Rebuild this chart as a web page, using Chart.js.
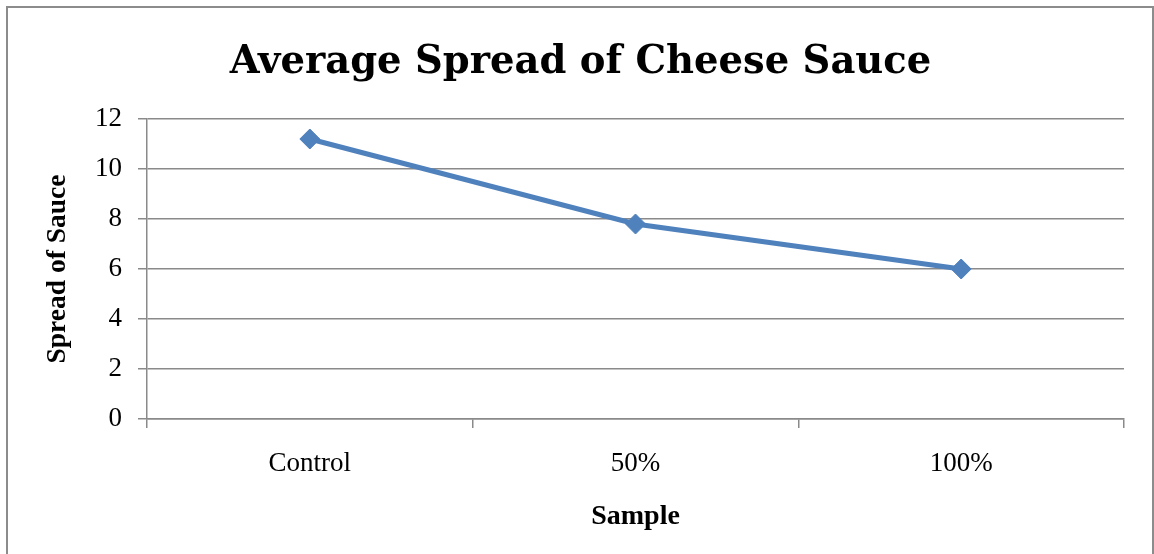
<!DOCTYPE html>
<html>
<head>
<meta charset="utf-8">
<title>Average Spread of Cheese Sauce</title>
<script src="https://cdn.jsdelivr.net/npm/chart.js@4"></script>
<style>
    html, body { margin: 0; padding: 0; background: #fff; }
    #wrap { width: 1154px; height: 554px; position: relative; }
</style>
</head>
<body>
<div id="wrap"><canvas id="spreadChart" width="1154" height="554"></canvas></div>
<script>
// --- Data ---
const samples = ['Control', '50%', '100%'];
const spreadValues = [11.2, 7.8, 6.0];
const yTicks = [0, 2, 4, 6, 8, 10, 12];

const TITLE_FONT = "'DejaVu Serif', serif";
const SERIF = "'Liberation Serif', 'DejaVu Serif', serif";
const GRID = '#8a8a8a';
const BLUE = '#4F81BD';

// thin grey frame round the whole chart (open at the bottom edge)
const frame = {
    id: 'frame',
    beforeDraw(chart) {
        const ctx = chart.ctx;
        ctx.save();
        ctx.strokeStyle = '#8c8c8c';
        ctx.lineWidth = 2;
        ctx.strokeRect(7, 7, 1146, 560);
        ctx.restore();
    }
};

document.addEventListener('DOMContentLoaded', () => {
    const ctx = document.getElementById('spreadChart');

    new Chart(ctx, {
        type: 'line',
        data: {
            labels: samples,
            datasets: [{
                label: 'Spread of Sauce',
                data: spreadValues,
                borderColor: BLUE,
                backgroundColor: BLUE,
                borderWidth: 5,
                pointStyle: 'rectRot',
                pointRadius: 10,
                pointBorderWidth: 1,
                tension: 0
            }]
        },
        options: {
            responsive: false,
            animation: false,
            layout: { padding: { top: 0, left: 37, right: 30, bottom: 0 } },
            plugins: {
                legend: { display: false },
                tooltip: { enabled: false },
                title: {
                    display: true,
                    text: 'Average Spread of Cheese Sauce',
                    color: '#000',
                    font: { family: TITLE_FONT, size: 38.5, weight: 'bold' },
                    padding: { top: 40, bottom: 32.8 }
                }
            },
            scales: {
                x: {
                    offset: true,
                    grid: {
                        offset: true,
                        drawOnChartArea: false,
                        drawTicks: true,
                        tickLength: 9,
                        color: GRID,
                        lineWidth: 1.5
                    },
                    border: { color: GRID, width: 1.5 },
                    ticks: {
                        color: '#000',
                        padding: 20,
                        font: { family: SERIF, size: 27 }
                    },
                    title: {
                        display: true,
                        text: 'Sample',
                        color: '#000',
                        font: { family: SERIF, size: 28, weight: 'bold' },
                        padding: { top: 0, bottom: 20 }
                    },
                    afterFit(scale) { scale.height = 135; }
                },
                y: {
                    min: 0,
                    max: 12,
                    afterBuildTicks(scale) {
                        scale.ticks = yTicks.map(v => ({ value: v }));
                    },
                    grid: {
                        color: GRID,
                        lineWidth: 1.5,
                        tickLength: 9
                    },
                    border: { color: GRID, width: 1.5 },
                    ticks: {
                        color: '#000',
                        padding: 16,
                        font: { family: SERIF, size: 27 }
                    },
                    title: {
                        display: true,
                        text: 'Spread of Sauce',
                        color: '#000',
                        font: { family: SERIF, size: 27.5, weight: 'bold' },
                        padding: { top: 4, bottom: 0 }
                    },
                    afterFit(scale) { scale.width = 110; }
                }
            }
        },
        plugins: [frame]
    });
});
</script>
</body>
</html>
